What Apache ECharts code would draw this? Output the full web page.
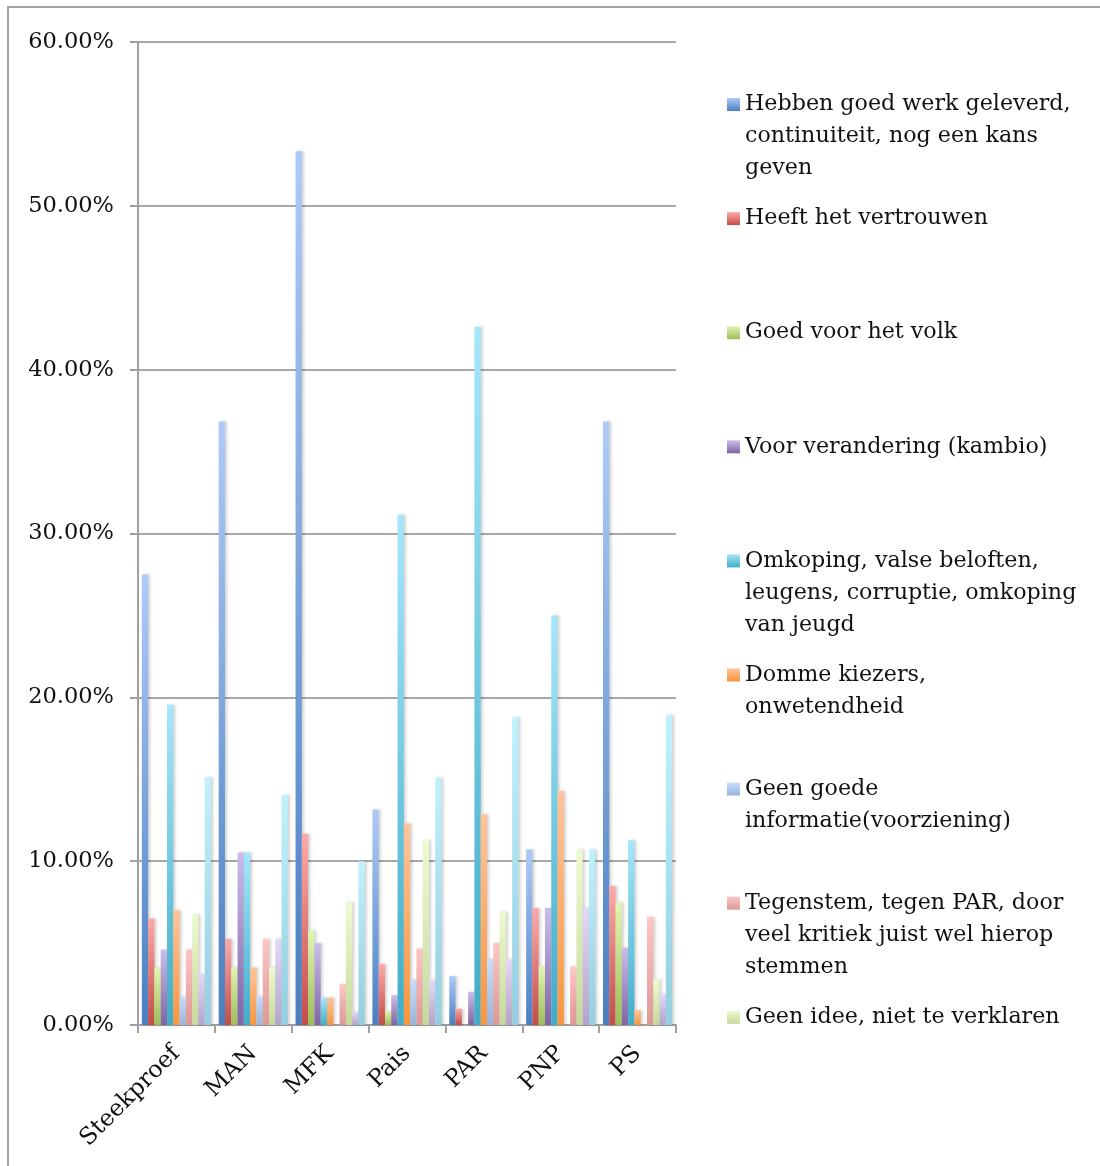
<!DOCTYPE html>
<html>
<head>
<meta charset="utf-8">
<script src="https://cdn.jsdelivr.net/npm/echarts@6/dist/echarts.min.js"></script>
<style>
html,body{margin:0;padding:0;background:#fff;}
#chart{width:1100px;height:1166px;}
</style>
</head>
<body>
<div id="chart"></div>
<script>
// ---- data ----
const categories = ['Steekproef', 'MAN', 'MFK', 'Pais', 'PAR', 'PNP', 'PS'];
const seriesNames = [
  'Hebben goed werk geleverd,\ncontinuiteit, nog een kans\ngeven',
  'Heeft het vertrouwen',
  'Goed voor het volk',
  'Voor verandering (kambio)',
  'Omkoping, valse beloften,\nleugens, corruptie, omkoping\nvan jeugd',
  'Domme kiezers,\nonwetendheid',
  'Geen goede\ninformatie(voorziening)',
  'Tegenstem, tegen PAR, door\nveel kritiek juist wel hierop\nstemmen',
  'Geen idee, niet te verklaren',
  'Overig',
  'Geen antwoord'
];
const s1  = [27.5, 36.84, 53.33, 13.15, 2.98, 10.71, 36.84];
const s2  = [6.5, 5.26, 11.67, 3.73, 0.99, 7.14, 8.48];
const s3  = [3.5, 3.51, 5.8, 0.86, 0, 3.57, 7.5];
const s4  = [4.6, 10.53, 5.0, 1.82, 2.02, 7.14, 4.71];
const s5  = [19.55, 10.53, 1.67, 31.14, 42.6, 25.0, 11.27];
const s6  = [7.0, 3.51, 1.67, 12.3, 12.87, 14.29, 0.91];
const s7  = [1.71, 1.75, 0, 2.75, 4.03, 0, 0];
const s8  = [4.6, 5.26, 2.5, 4.66, 5.0, 3.57, 6.6];
const s9  = [6.75, 3.51, 7.5, 11.27, 6.91, 10.71, 2.8];
const s10 = [3.1, 5.26, 0.8, 2.75, 4.03, 7.14, 1.89];
const s11 = [15.12, 14.04, 10.0, 15.09, 18.78, 10.71, 18.9];
const seriesValues = [s1, s2, s3, s4, s5, s6, s7, s8, s9, s10, s11];
const yTicks = { min: 0, max: 60, interval: 10 };

// ---- styling ----
const gradients = [
  ['#aecaf8', '#4a7fc0'],
  ['#fdaaa8', '#c24c48'],
  ['#e2f5b4', '#9dbd58'],
  ['#cbbdea', '#8064a4'],
  ['#a6e6fb', '#40adc9'],
  ['#ffc49a', '#f8963f'],
  ['#c9ddfb', '#98b5dc'],
  ['#ffc6c4', '#dc9896'],
  ['#eefad0', '#c6d99c'],
  ['#e4d8f7', '#b3a3c9'],
  ['#c0f1fd', '#94cee0']
];
const FONT = 'DejaVu Serif';

function grad(c) {
  return new echarts.graphic.LinearGradient(0, 0, 0, 1, [
    { offset: 0, color: c[0] },
    { offset: 1, color: c[1] }
  ]);
}

const series = seriesValues.map((vals, i) => ({
  name: seriesNames[i],
  type: 'bar',
  data: vals,
  barGap: '0%',
  barCategoryGap: '10%',
  itemStyle: {
    color: grad(gradients[i]),
    shadowColor: 'rgba(0,0,0,0.18)',
    shadowBlur: 3,
    shadowOffsetX: 2,
    shadowOffsetY: 0
  },
  emphasis: { disabled: true }
}));

// legend: one component per item, first text line aligned with the icon
const LH = 32;
const legendTop0 = 104.5;
const legendStep = 114.1;
const legends = seriesNames.slice(0, 9).map((name, i) => {
  const n = name.split('\n').length;
  const blockH = (2 * n - 1) * LH;
  return {
    orient: 'vertical',
    left: 727,
    top: legendTop0 + legendStep * i - blockH / 2,
    padding: 0,
    itemWidth: 13,
    itemHeight: 13,
    icon: 'rect',
    selectedMode: false,
    data: [name],
    formatter: nm => '\n'.repeat(nm.split('\n').length - 1) + nm,
    textStyle: { fontFamily: FONT, fontSize: 22.2, color: '#111', lineHeight: LH }
  };
});

const chart = echarts.init(document.getElementById('chart'), null, { renderer: 'canvas' });
chart.setOption({
  backgroundColor: '#ffffff',
  animation: false,
  graphic: [{
    type: 'rect',
    shape: { x: 8, y: 7, width: 1200, height: 1300 },
    style: { fill: 'none', stroke: '#a3a3a3', lineWidth: 2 },
    silent: true
  }],
  legend: legends,
  grid: { left: 138, right: 424, top: 42, bottom: 141, containLabel: false },
  xAxis: {
    type: 'category',
    data: categories,
    axisLine: { lineStyle: { color: '#a0a0a0', width: 2 } },
    axisTick: { show: true, length: 8, alignWithLabel: false, lineStyle: { color: '#a0a0a0', width: 2 } },
    axisLabel: { rotate: 45, margin: 25, fontFamily: FONT, fontSize: 23.5, color: '#111', interval: 0 }
  },
  yAxis: {
    type: 'value',
    min: yTicks.min,
    max: yTicks.max,
    interval: yTicks.interval,
    axisLine: { show: true, lineStyle: { color: '#a0a0a0', width: 2 } },
    axisTick: { show: true, length: 8, lineStyle: { color: '#a0a0a0', width: 2 } },
    splitLine: { show: true, lineStyle: { color: '#a8a8a8', width: 2 } },
    axisLabel: {
      margin: 24,
      fontFamily: FONT,
      fontSize: 22.5,
      color: '#111',
      formatter: v => v.toFixed(2) + '%'
    }
  },
  series: series
});
</script>
</body>
</html>
